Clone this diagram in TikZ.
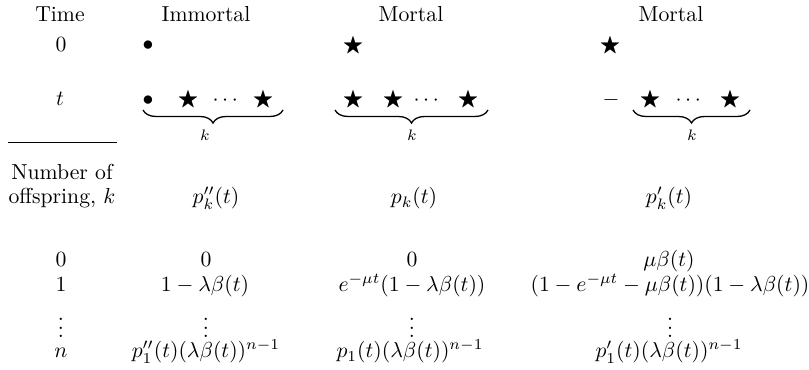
\documentclass[tikz,border=0pt]{standalone}
\usepackage{amsmath,amssymb}
\usetikzlibrary{decorations.pathreplacing}

\begin{document}
\begin{tikzpicture}[x=0.0162cm,y=-0.0162cm,
  every node/.style={inner sep=0pt,text height=1.5ex,text depth=.25ex},
  kbrace/.style={decorate,decoration={brace,mirror,amplitude=6pt},line width=.6pt}]
\useasboundingbox (0,0) rectangle (809,370);
% headings
\node (time) at (60,16) {Time};
\node (imm) at (206,16) {Immortal};
\node (mor1) at (411,16) {Mortal};
\node (mor2) at (671,16) {Mortal};
% time 0
\node (t0) at (61,46) {0};
\node (a0) at (148,45) {$\bullet$};
\node (b0) at (353,46) {$\bigstar$};
\node (c0) at (610,46) {$\bigstar$};
% time t
\node (tt) at (60,100) {$t$};
\node (a1) at (148,100) {$\bullet$};
\node (a2) at (188,100) {$\bigstar$};
\node (a3) at (227,100) {$\cdots$};
\node (a4) at (263,100) {$\bigstar$};
\node (b1) at (353,100) {$\bigstar$};
\node (b2) at (393,100) {$\bigstar$};
\node (b3) at (428,100) {$\cdots$};
\node (b4) at (468,100) {$\bigstar$};
\node (c1) at (611,100) {$-$};
\node (c2) at (650,100) {$\bigstar$};
\node (c3) at (690,100) {$\cdots$};
\node (c4) at (730,100) {$\bigstar$};
% braces
\coordinate (ab1) at (143,110); \coordinate (ab2) at (283,110);
\coordinate (bb1) at (335,110); \coordinate (bb2) at (488,110);
\coordinate (cb1) at (633,110); \coordinate (cb2) at (750,110);
\draw[kbrace] (ab1) -- (ab2);
\draw[kbrace] (bb1) -- (bb2);
\draw[kbrace] (cb1) -- (cb2);
\node[font=\scriptsize] (ak) at (205,135) {$k$};
\node[font=\scriptsize] (bk) at (412,135) {$k$};
\node[font=\scriptsize] (ck) at (692,135) {$k$};
\coordinate (r1) at (8,142); \coordinate (r2) at (117,142);
\draw[line width=.4pt] (r1) -- (r2);
% offspring
\node (nof1) at (62,174) {Number of};
\node (nof2) at (62,198) {offspring, $k$};
\node (pa) at (216,198) {$p''_k(t)$};
\node (pb) at (414,198) {$p_k(t)$};
\node (pc) at (669,198) {$p'_k(t)$};
% k = 0
\node (k0) at (61,261) {0};
\node (a5) at (206,261) {0};
\node (b5) at (412,261) {0};
\node (c5) at (669,261) {$\mu\beta(t)$};
% k = 1
\node (k1) at (61,286) {1};
\node (a6) at (205,286) {$1-\lambda\beta(t)$};
\node (b6) at (412,286) {$e^{-\mu t}(1-\lambda\beta(t))$};
\node (c6) at (670,286) {$(1-e^{-\mu t}-\mu\beta(t))(1-\lambda\beta(t))$};
% dots
\node (kd) at (61,332) {$\vdots$};
\node (ad) at (206,332) {$\vdots$};
\node (bd) at (412,332) {$\vdots$};
\node (cd) at (670,332) {$\vdots$};
% k = n
\node (kn) at (61,352) {$n$};
\node (an) at (206,352) {$p''_1(t)(\lambda\beta(t))^{n-1}$};
\node (bn) at (410,352) {$p_1(t)(\lambda\beta(t))^{n-1}$};
\node (cn) at (669,352) {$p'_1(t)(\lambda\beta(t))^{n-1}$};
\end{tikzpicture}
\end{document}
